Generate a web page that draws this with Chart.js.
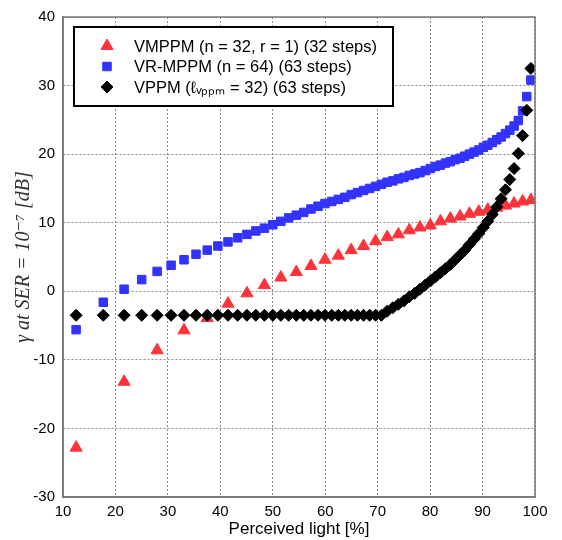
<!DOCTYPE html>
<html>
<head>
<meta charset="utf-8">
<script src="https://cdn.jsdelivr.net/npm/chart.js@4/dist/chart.umd.min.js"></script>
<style>
  html, body { margin: 0; padding: 0; background: #fff; }
</style>
</head>
<body>
<canvas id="myChart" width="562" height="540"></canvas>
<script>
// perceived light (%) for the 63-step schemes
const light63 = [
    12.50, 17.68, 21.65, 25.00, 27.95, 30.62, 33.07, 35.36, 37.50, 39.53,
    41.46, 43.30, 45.07, 46.77, 48.41, 50.00, 51.54, 53.03, 54.49, 55.90,
    57.28, 58.63, 59.95, 61.24, 62.50, 63.74, 64.95, 66.14, 67.31, 68.47,
    69.60, 70.71, 71.81, 72.89, 73.95, 75.00, 76.03, 77.06, 78.06, 79.06,
    80.04, 81.01, 81.97, 82.92, 83.85, 84.78, 85.70, 86.60, 87.50, 88.39,
    89.27, 90.14, 91.00, 91.86, 92.70, 93.54, 94.37, 95.19, 96.01, 96.82,
    97.63, 98.43, 99.22
];
// perceived light (%) for the 32-step scheme
const light32 = [
    12.50, 21.65, 27.95, 33.07, 37.50, 41.46, 45.07, 48.41, 51.54, 54.49,
    57.28, 59.95, 62.50, 64.95, 67.31, 69.60, 71.81, 73.95, 76.03, 78.06,
    80.04, 81.97, 83.85, 85.70, 87.50, 89.27, 91.00, 92.70, 94.37, 96.01,
    97.63, 99.22
];

const vmppm = [
    -22.8, -13.2, -8.6, -5.7, -3.9, -1.8, -0.3, 0.9, 2.0, 2.8,
    3.7, 4.6, 5.2, 6.0, 6.6, 7.3, 7.9, 8.3, 8.9, 9.3,
    9.6, 10.2, 10.6, 10.9, 11.3, 11.6, 11.9, 12.2, 12.5, 12.8,
    13.1, 13.3
];
const vrmppm = [
    -5.6, -1.6, 0.3, 1.7, 2.9, 3.8, 4.6, 5.4, 6.0, 6.6,
    7.2, 7.8, 8.3, 8.8, 9.2, 9.7, 10.2, 10.7, 11.1, 11.5,
    12.0, 12.4, 12.8, 13.1, 13.4, 13.7, 14.1, 14.4, 14.7, 15.0,
    15.3, 15.6, 15.9, 16.1, 16.4, 16.6, 16.9, 17.1, 17.3, 17.6,
    17.9, 18.2, 18.4, 18.7, 18.9, 19.2, 19.4, 19.7, 20.0, 20.3,
    20.6, 21.0, 21.3, 21.7, 22.1, 22.5, 23.0, 23.5, 24.1, 24.9,
    26.3, 28.4, 30.8
];
const vppm = [
    -3.5, -3.5, -3.5, -3.5, -3.5, -3.5, -3.5, -3.5, -3.5, -3.5,
    -3.5, -3.5, -3.5, -3.5, -3.5, -3.5, -3.5, -3.5, -3.5, -3.5,
    -3.5, -3.5, -3.5, -3.5, -3.5, -3.5, -3.5, -3.5, -3.5, -3.5,
    -3.5, -3.5, -2.9, -2.4, -1.9, -1.4, -0.8, -0.3, 0.3, 0.9,
    1.5, 2.1, 2.7, 3.3, 3.9, 4.6, 5.3, 6.0, 6.8, 7.6,
    8.4, 9.3, 10.2, 11.2, 12.3, 13.5, 14.8, 16.3, 17.9, 20.1,
    22.7, 26.4, 32.5
];

const seriesLabels = [
    'VMPPM (n = 32, r = 1) (32 steps)',
    'VR-MPPM (n = 64) (63 steps)',
    'VPPM (ℓᵥₚₚₘ = 32) (63 steps)'
];

function pts(xs, ys) {
    return xs.map((x, i) => ({x: x, y: ys[i]}));
}

const legendBox = {
    id: 'legendBox',
    afterDraw(chart) {
        const ctx = chart.ctx;
        const a = chart.chartArea;
        ctx.save();
        // full frame around plot
        ctx.strokeStyle = '#777';
        ctx.lineWidth = 1.5;
        ctx.strokeRect(a.left, a.top, a.right - a.left, a.bottom - a.top);

        // legend
        const bx = a.left + 11, by = a.top + 10, bw = 319, bh = 79;
        ctx.fillStyle = '#fff';
        ctx.fillRect(bx, by, bw, bh);
        ctx.strokeStyle = '#000';
        ctx.lineWidth = 2;
        ctx.strokeRect(bx, by, bw, bh);

        chart.data.datasets.forEach((ds, i) => {
            const y = by + 19 + i * 20.5;
            const x = bx + 33;
            ctx.fillStyle = ds.backgroundColor;
            ctx.strokeStyle = ds.borderColor;
            ctx.lineWidth = 1;
            Chart.helpers.drawPoint(ctx, {
                pointStyle: ds.pointStyle,
                radius: ds.pointRadius,
                rotation: 0,
                borderWidth: 1
            }, x, y);
            ctx.fillStyle = '#000';
            ctx.font = '16.5px "Liberation Sans", Arial, sans-serif';
            ctx.textBaseline = 'middle';
            ctx.textAlign = 'left';
            ctx.fillText(ds.label, bx + 60, y + 1);
        });
        ctx.restore();
    }
};

const gridStyle = {
    color: '#8a8a8a',
    lineWidth: 1,
    drawTicks: false
};

const config = {
    type: 'scatter',
    data: {
        datasets: [{
            label: seriesLabels[0],
            data: pts(light32, vmppm),
            pointStyle: 'triangle',
            pointRadius: 7,
            backgroundColor: 'rgb(255,51,58)',
            borderColor: 'rgb(255,51,58)',
            borderWidth: 1,
            order: 2
        },
        {
            label: seriesLabels[1],
            data: pts(light63, vrmppm),
            pointStyle: 'rect',
            pointRadius: 6,
            backgroundColor: 'rgb(51,51,255)',
            borderColor: 'rgb(51,51,255)',
            borderWidth: 1,
            order: 1
        },
        {
            label: seriesLabels[2],
            data: pts(light63, vppm),
            pointStyle: 'rectRot',
            pointRadius: 6,
            backgroundColor: '#000',
            borderColor: '#000',
            borderWidth: 1,
            order: 0
        }]
    },
    options: {
        responsive: false,
        animation: false,
        events: [],
        layout: {padding: {top: 9, right: 27, left: 0, bottom: 0}},
        plugins: {
            legend: {display: false},
            tooltip: {enabled: false}
        },
        scales: {
            x: {
                type: 'linear',
                min: 10,
                max: 100,
                afterFit: (s) => { s.height = 43; },
                ticks: {
                    stepSize: 10,
                    padding: 6,
                    color: '#000',
                    font: {family: '"Liberation Sans", Arial, sans-serif', size: 15}
                },
                grid: Object.assign({}, gridStyle),
                border: {display: true, color: '#777', width: 1.5, dash: [2, 2]},
                title: {
                    display: true,
                    text: 'Perceived light [%]',
                    color: '#000',
                    padding: {top: 0, bottom: 0},
                    font: {family: '"Liberation Sans", Arial, sans-serif', size: 17}
                }
            },
            y: {
                min: -30,
                max: 40,
                afterFit: (s) => { s.width = 63; },
                ticks: {
                    stepSize: 10,
                    padding: 8,
                    color: '#000',
                    font: {family: '"Liberation Sans", Arial, sans-serif', size: 15}
                },
                grid: Object.assign({}, gridStyle),
                border: {display: true, color: '#777', width: 1.5, dash: [2, 2]},
                title: {
                    display: true,
                    text: 'γ at SER = 10⁻⁷ [dB]',
                    color: '#333',
                    padding: {top: 12, bottom: 0},
                    font: {family: '"Liberation Serif", "DejaVu Serif", serif', size: 20, style: 'italic'}
                }
            }
        }
    },
    plugins: [legendBox]
};

const myChart = new Chart(
    document.getElementById('myChart'),
    config
);
</script>
</body>
</html>
